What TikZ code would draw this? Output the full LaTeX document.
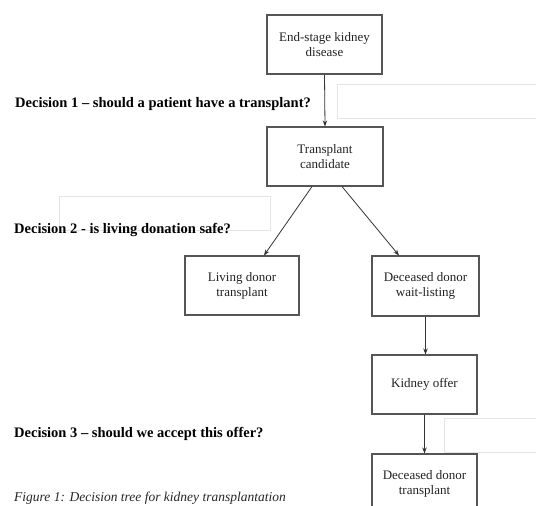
\documentclass[tikz,border=0pt]{standalone}
\usepackage{fontspec}
\setmainfont{Liberation Serif}
\usetikzlibrary{arrows.meta}
\definecolor{boxline}{HTML}{555555}
\definecolor{faint}{HTML}{E4E4E4}
\definecolor{inktext}{HTML}{222222}
\tikzset{
  stagebox/.style={draw=boxline, line width=1.1pt, minimum height=59pt, inner sep=0pt,
    align=center, text=inktext, font=\fontsize{13}{15}\selectfont},
  flow/.style={draw=black!80, line width=0.8pt, -{Stealth[length=6pt,width=4.5pt]}},
  decision/.style={anchor=base west, inner sep=0pt, font=\fontsize{14.5}{16}\selectfont\bfseries, text=black},
  caption/.style={anchor=base west, inner sep=0pt, font=\fontsize{13.5}{16}\selectfont\itshape, text=black!85},
  ghost/.style={draw=faint, line width=0.6pt}
}
\begin{document}
\begin{tikzpicture}[x=1pt,y=-1pt]
\useasboundingbox (0,0) rectangle (536,506);
\clip (0,0) rectangle (536,506);
\fill[white] (0,0) rectangle (536,506);
% faint artefact rectangles
\draw[ghost] (337,84) rectangle (545,118);
\draw[ghost] (59,196) rectangle (270,230);
\draw[ghost] (444,418) rectangle (545,452);
% boxes
\node[stagebox, minimum width=115pt] (esk) at (324.5,44.5) {End-stage kidney\\disease};
\node[stagebox, minimum width=116pt] (cand) at (325,156.5) {Transplant\\candidate};
\node[stagebox, minimum width=114pt] (live) at (242,285.5) {Living donor\\transplant};
\node[stagebox, minimum width=107pt, minimum height=60pt] (wait) at (425.5,286) {Deceased donor\\wait-listing};
\node[stagebox, minimum width=105pt] (offer) at (424.5,384.5) {Kidney offer};
\node[stagebox, minimum width=105pt] (ddt) at (424.5,483.5) {Deceased donor\\transplant};
% connectors
\draw[flow] (esk.south) -- (cand.north);
\draw[flow] ([xshift=-13pt]cand.south) -- ([xshift=22pt]live.north);
\draw[flow] ([xshift=17pt]cand.south) -- ([xshift=-26.5pt]wait.north);
\draw[flow] (wait.south) -- (wait.south |- offer.north);
\draw[flow] (offer.south) -- (offer.south |- ddt.north);
% decision labels
\node[decision] (d1) at (15,107) {Decision 1 – should a patient have a transplant?};
\node[decision] (d2) at (14,233) {Decision 2 - is living donation safe?};
\node[decision] (d3) at (14,437) {Decision 3 – should we accept this offer?};
\node[caption] (cap) at (14,501) {Figure 1: Decision tree for kidney transplantation};
\end{tikzpicture}
\end{document}
